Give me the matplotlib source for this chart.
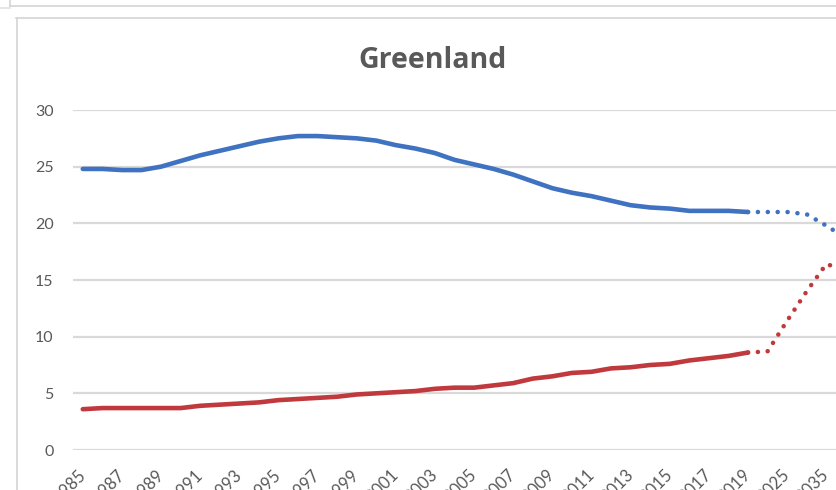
import matplotlib
matplotlib.use("Agg")
import matplotlib.pyplot as plt
from matplotlib.lines import Line2D

# Category axis: yearly history followed by projection years
years = [str(y) for y in range(1985, 2020)] + ["2020", "2025", "2030", "2035", "2040"]

# Historical series (1985-2019)
blue_hist = [24.8, 24.8, 24.7, 24.7, 25.0, 25.5, 26.0, 26.4, 26.8, 27.2,
             27.5, 27.7, 27.7, 27.6, 27.5, 27.3, 26.9, 26.6, 26.2, 25.6,
             25.2, 24.8, 24.3, 23.7, 23.1, 22.7, 22.4, 22.0, 21.6, 21.4,
             21.3, 21.1, 21.1, 21.1, 21.0]
red_hist = [3.6, 3.7, 3.7, 3.7, 3.7, 3.7, 3.9, 4.0, 4.1, 4.2,
            4.4, 4.5, 4.6, 4.7, 4.9, 5.0, 5.1, 5.2, 5.4, 5.5,
            5.5, 5.7, 5.9, 6.3, 6.5, 6.8, 6.9, 7.2, 7.3, 7.5,
            7.6, 7.9, 8.1, 8.3, 8.6]

# Projections (2019 onwards: 2019, 2020, 2025, 2030, 2035, 2040)
blue_proj = [21.0, 21.0, 21.0, 20.8, 19.8, 18.7]
red_proj = [8.6, 8.7, 11.4, 14.0, 16.4, 15.9]

BLUE = "#3F72C0"
RED = "#C0393D"
GRID = "#D9D9D9"
TEXT = "#595959"

fig = plt.figure(figsize=(8.37, 4.90), dpi=100)
fig.patch.set_facecolor("white")

W, H = 837, 490
ax_left, ax_right = 73, 837
ax_top, ax_bottom = 110, 450
ax = fig.add_axes([ax_left / W, 1 - ax_bottom / H,
                   (ax_right - ax_left) / W, (ax_bottom - ax_top) / H])

n_hist = len(blue_hist)
x_hist = list(range(n_hist))
x_proj = list(range(n_hist - 1, n_hist - 1 + len(blue_proj)))

LW = 3.3
ax.plot(x_hist, blue_hist, color=BLUE, lw=LW, solid_capstyle="round",
        solid_joinstyle="round", zorder=3)
ax.plot(x_hist, red_hist, color=RED, lw=LW, solid_capstyle="round",
        solid_joinstyle="round", zorder=3)
dot = (0, (0.01, 2.15))
ax.plot(x_proj, blue_proj, color=BLUE, lw=LW, linestyle=dot,
        dash_capstyle="round", zorder=3)
ax.plot(x_proj, red_proj, color=RED, lw=LW, linestyle=dot,
        dash_capstyle="round", zorder=3)

ax.set_ylim(0, 30)
ax.set_xlim(-0.5, 38.55)
ax.set_yticks(range(0, 31, 5))
ax.grid(axis="y", color=GRID, lw=1.6)
ax.set_axisbelow(True)
for s in ax.spines.values():
    s.set_visible(False)

tick_pos = list(range(0, len(years), 2))
ax.set_xticks(tick_pos)
ax.set_xticklabels([years[i] for i in tick_pos], rotation=45, ha="right",
                   va="center", rotation_mode="anchor")
ax.tick_params(axis="x", length=0, pad=16, labelsize=12, labelcolor=TEXT)
ax.tick_params(axis="y", length=0, pad=14, labelsize=11.5, labelcolor=TEXT)
for lab in ax.get_xticklabels() + ax.get_yticklabels():
    lab.set_fontfamily("Lato")

fig.text(433 / W, 1 - 61 / H, "Greenland", ha="center", va="center",
         fontsize=20.5, fontweight="bold", color=TEXT, family="Open Sans")

# Chart frame and surrounding sheet edges
def fline(xs, ys, color="#D4D4D4", lw=1.2):
    fig.add_artist(Line2D([x / W for x in xs], [1 - y / H for y in ys],
                          color=color, lw=lw, transform=fig.transFigure))

fline([10, 837], [6, 6])
fline([10, 10], [0, 6])
fline([0, 10], [8, 8], color="#E2E2E2")
fline([16, 837], [18, 18])
fline([17, 17], [18, 490])

fig.savefig("out.png", dpi=100, facecolor="white")
